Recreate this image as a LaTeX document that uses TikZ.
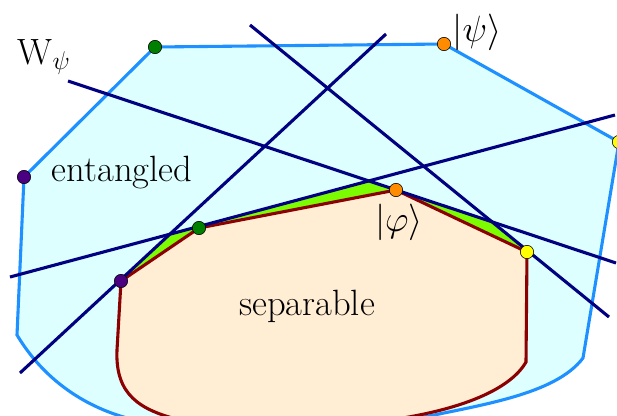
\RequirePackage{fix-cm}
\documentclass[tikz,border=0pt]{standalone}
\usepackage{fontspec}
\usepackage{tikz}

\definecolor{entblue}{RGB}{30,144,255}
\definecolor{entfill}{RGB}{222,255,255}
\definecolor{sepfill}{RGB}{255,237,212}
\definecolor{seped}{RGB}{139,0,0}
\definecolor{witcol}{RGB}{0,0,128}
\definecolor{gapcol}{RGB}{124,252,0}
\definecolor{dotpurple}{RGB}{75,0,130}
\definecolor{dotgreen}{RGB}{0,128,0}
\definecolor{dotorange}{RGB}{255,140,0}
\definecolor{dotyellow}{RGB}{255,255,0}

\begin{document}
\begin{tikzpicture}[x=0.025cm, y=-0.025cm,
  every node/.style={font=\fontsize{26}{30}\selectfont},
  witness/.style={witcol, line width=2.2pt},
  dot/.style={circle, draw=black, line width=0.4pt, inner sep=0pt, minimum size=9.5pt}]
  \useasboundingbox (0,0) rectangle (617,415);
  \clip (0,0) rectangle (617,415);

  % entangled set
  \filldraw[fill=entfill, draw=entblue, line width=2.2pt]
    (24,177) -- (155,47) -- (444,44) -- (619,142) -- (583,358)
    .. controls (555,395) and (480,405) .. (410,420) -- (135,420)
    .. controls (100,412) and (50,390) .. (17,335) -- cycle;

  % witness lines
  \coordinate (A1) at (20,373);  \coordinate (A2) at (386,34);
  \coordinate (B1) at (10,277);  \coordinate (B2) at (615,115);
  \coordinate (C1) at (68,81);   \coordinate (C2) at (616,263);
  \coordinate (D1) at (250,25);  \coordinate (D2) at (609,317);

  % gap between witnesses and separable set
  \fill[gapcol] (121,281)
    -- (intersection of A1--A2 and B1--B2)
    -- (intersection of B1--B2 and C1--C2)
    -- (intersection of C1--C2 and D1--D2)
    -- (527,252) -- cycle;

  % separable set
  \filldraw[fill=sepfill, draw=seped, line width=2.2pt]
    (121,281) -- (199,228) -- (396,190) -- (527,252) -- (526,362)
    .. controls (510,390) and (460,410) .. (390,420) -- (180,420)
    .. controls (140,410) and (115,395) .. (117,350) -- cycle;

  \draw[witness] (A1) -- (A2);
  \draw[witness] (B1) -- (B2);
  \draw[witness] (C1) -- (C2);
  \draw[witness] (D1) -- (D2);

  \node[dot, fill=dotpurple] (ent1) at (24,177) {};
  \node[dot, fill=dotgreen] (ent2) at (155,47) {};
  \node[dot, fill=dotorange] (psi) at (444,44) {};
  \node[dot, fill=dotyellow] (ent4) at (619,142) {};

  \node[dot, fill=dotpurple] (sep1) at (121,281) {};
  \node[dot, fill=dotgreen] (sep2) at (199,228) {};
  \node[dot, fill=dotorange] (phi) at (396,190) {};
  \node[dot, fill=dotyellow] (sep4) at (527,252) {};

  \node (wlabel) at (44,57) {$\mathrm{W}_\psi$};
  \node (entlabel) at (122,173) {entangled};
  \node (seplabel) at (307,306) {separable};
  \node (psilabel) at (477,32) {$|\psi\rangle$};
  \node (philabel) at (399,222) {$|\varphi\rangle$};
\end{tikzpicture}
\end{document}
